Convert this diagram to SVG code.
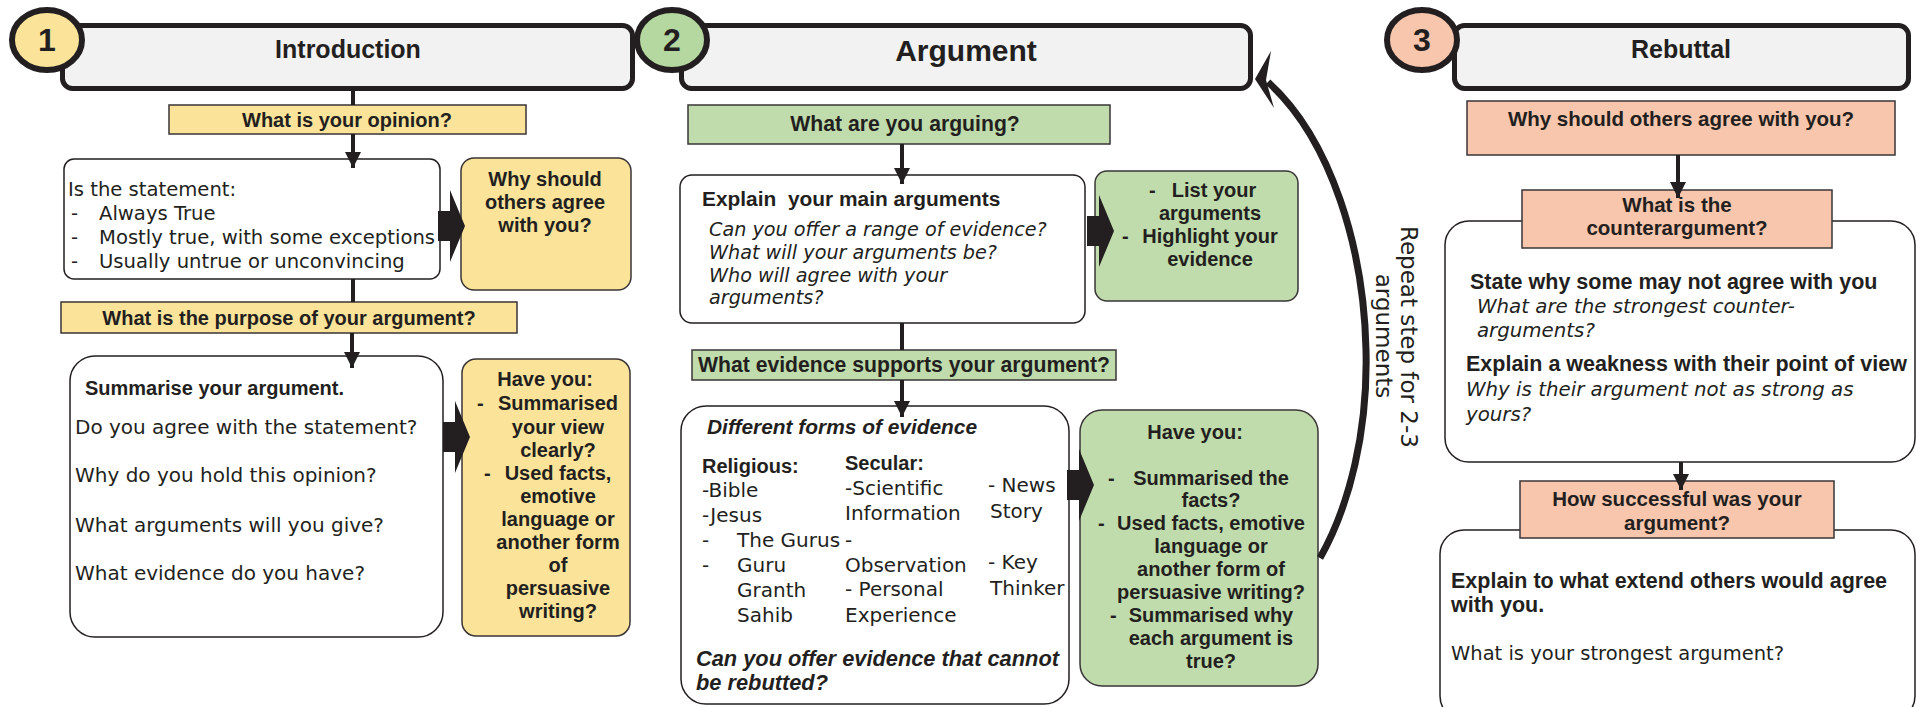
<svg xmlns="http://www.w3.org/2000/svg" width="1917" height="707" viewBox="0 0 1917 707">
  <style>
    .hdr{fill:#f1f2f1;stroke:#231f20;stroke-width:5}
    .num{stroke:#231f20;stroke-width:6}
    .y{fill:#fbe49a}
    .g{fill:#c0dcac}
    .g2{fill:#b5d7a0}
    .p{fill:#f8c6ac}
    .bar{stroke:#3a3536;stroke-width:1.5}
    .rbox{stroke:#3a3536;stroke-width:1.5}
    .box{fill:#ffffff;stroke:#231f20;stroke-width:1.5}
    text{fill:#231f20;font-family:"DejaVu Sans",sans-serif;font-size:20px}
    .b{font-family:"Liberation Sans",Arial,sans-serif;font-weight:bold;font-size:20px}
    .i{font-style:italic;font-size:19.5px}
    .c{text-anchor:middle}
    .t{font-family:"Liberation Sans",Arial,sans-serif;font-weight:bold;font-size:25px}
    .d{font-family:"Liberation Sans",Arial,sans-serif;font-weight:bold;font-size:32px}
    .z192{font-size:19.2px}
    .z195{font-size:19.5px}
    .z196{font-size:19.6px}
    .z198{font-size:19.8px}
    .z205{font-size:20.5px}
    .z209{font-size:20.9px}
    .z212{font-size:21.2px}
    .z215{font-size:21.5px}
    .z218{font-size:21.8px}
    .z23{font-size:23px}
    .z30{font-size:30px}
    .conn{stroke:#231f20;stroke-width:4;fill:none}
  </style>
  <defs>
    <marker id="ah" markerUnits="userSpaceOnUse" markerWidth="18" markerHeight="18" refX="16" refY="8" orient="auto">
      <path d="M0,0 L16,8 L0,16 Z" fill="#231f20"/>
    </marker>
    <path id="blk" d="M0,-15 H12 V-36 L27,0 L12,36 V15 H0 Z" fill="#231f20"/>
  </defs>

  <!-- 1 Introduction -->
  <g id="intro-header">
    <rect class="hdr" x="62.5" y="25.5" width="570" height="63" rx="10"/>
    <ellipse class="num y" cx="47" cy="40" rx="35" ry="30"/>
    <text class="d c" x="47" y="51">1</text>
    <text class="t c" x="348" y="58">Introduction</text>
  </g>
  <g id="intro-opinion">
    <rect class="bar y" x="169" y="105" width="357" height="29"/>
    <text class="b c" x="347" y="127">What is your opinion?</text>
  </g>
  <g id="intro-statement">
    <rect class="box" x="64" y="159" width="376" height="120" rx="10"/>
    <text class="z196" x="68" y="196">Is the statement:</text>
    <text class="z196" x="71" y="220">-</text><text class="z196" x="99" y="220">Always True</text>
    <text class="z196" x="71" y="244">-</text><text class="z196" x="99" y="244">Mostly true, with some exceptions</text>
    <text class="z196" x="71" y="268">-</text><text class="z196" x="99" y="268">Usually untrue or unconvincing</text>
  </g>
  <g id="intro-why">
    <rect class="rbox y" x="461" y="158" width="170" height="132" rx="13"/>
    <text class="b c" x="545" y="186">Why should</text>
    <text class="b c" x="545" y="209">others agree</text>
    <text class="b c" x="545" y="232">with you?</text>
  </g>
  <g id="intro-purpose">
    <rect class="bar y" x="61" y="302" width="456" height="31"/>
    <text class="b c" x="289" y="325">What is the purpose of your argument?</text>
  </g>
  <g id="intro-summary">
    <rect class="box" x="70" y="356" width="373" height="281" rx="25"/>
    <text class="b" x="85" y="395">Summarise your argument.</text>
    <text x="75" y="434">Do you agree with the statement?</text>
    <text x="75" y="482">Why do you hold this opinion?</text>
    <text x="75" y="532">What arguments will you give?</text>
    <text x="75" y="580">What evidence do you have?</text>
  </g>
  <g id="intro-check">
    <rect class="rbox y" x="462" y="359" width="168" height="277" rx="14"/>
    <text class="b c" x="545" y="386">Have you:</text>
    <text class="b" x="477" y="410">-</text>
    <text class="b c" x="558" y="410">Summarised</text>
    <text class="b c" x="558" y="434">your view</text>
    <text class="b c" x="558" y="457">clearly?</text>
    <text class="b" x="484" y="480">-</text>
    <text class="b c" x="558" y="480">Used facts,</text>
    <text class="b c" x="558" y="503">emotive</text>
    <text class="b c" x="558" y="526">language or</text>
    <text class="b c" x="558" y="549">another form</text>
    <text class="b c" x="558" y="572">of</text>
    <text class="b c" x="558" y="595">persuasive</text>
    <text class="b c" x="558" y="618">writing?</text>
  </g>

  <!-- 2 Argument -->
  <g id="arg-header">
    <rect class="hdr" x="681.5" y="25.5" width="569" height="63" rx="10"/>
    <ellipse class="num g2" cx="672" cy="40" rx="35" ry="30"/>
    <text class="d c" x="672" y="51">2</text>
    <text class="t z30 c" x="966" y="61">Argument</text>
  </g>
  <g id="arg-question">
    <rect class="bar g" x="688" y="105" width="422" height="39"/>
    <text class="b z212 c" x="905" y="131">What are you arguing?</text>
  </g>
  <g id="arg-main">
    <rect class="box" x="680" y="175" width="405" height="148" rx="12"/>
    <text class="b z209" x="702" y="206" xml:space="preserve">Explain  your main arguments</text>
    <text class="i z192" x="709" y="236">Can you offer a range of evidence?</text>
    <text class="i z192" x="709" y="259">What will your arguments be?</text>
    <text class="i z192" x="709" y="282">Who will agree with your</text>
    <text class="i z192" x="709" y="304">arguments?</text>
  </g>
  <g id="arg-list">
    <rect class="rbox g" x="1095" y="171" width="203" height="130" rx="12"/>
    <text class="b" x="1149" y="197">-</text>
    <text class="b c" x="1214" y="197">List your</text>
    <text class="b c" x="1210" y="220">arguments</text>
    <text class="b" x="1122" y="243">-</text>
    <text class="b c" x="1210" y="243">Highlight your</text>
    <text class="b c" x="1210" y="266">evidence</text>
  </g>
  <g id="arg-evidence-q">
    <rect class="bar g" x="692" y="350" width="424" height="30"/>
    <text class="b z212 c" x="904" y="372">What evidence supports your argument?</text>
  </g>
  <g id="arg-evidence">
    <rect class="box" x="681" y="406" width="388" height="298" rx="25"/>
    <text class="b z209" x="707" y="434" font-style="italic">Different forms of evidence</text>
    <text class="b" x="702" y="473">Religious:</text>
    <text class="b" x="845" y="470">Secular:</text>
    <text x="702" y="497">-Bible</text>
    <text x="845" y="495">-Scientific</text>
    <text x="988" y="492">- News</text>
    <text x="702" y="522">-Jesus</text>
    <text x="845" y="520">Information</text>
    <text x="990" y="518">Story</text>
    <text x="702" y="547">-</text><text x="737" y="547">The Gurus</text><text x="845" y="547">-</text>
    <text x="702" y="572">-</text><text x="737" y="572">Guru</text>
    <text x="845" y="572">Observation</text>
    <text x="988" y="569">- Key</text>
    <text x="737" y="597">Granth</text>
    <text x="845" y="596">- Personal</text>
    <text x="990" y="595">Thinker</text>
    <text x="737" y="622">Sahib</text>
    <text x="845" y="622">Experience</text>
    <text class="b z218" x="696" y="666" font-style="italic">Can you offer evidence that cannot</text>
    <text class="b z218" x="696" y="690" font-style="italic">be rebutted?</text>
  </g>
  <g id="arg-check">
    <rect class="rbox g" x="1080" y="410" width="238" height="276" rx="22"/>
    <text class="b c" x="1195" y="439">Have you:</text>
    <text class="b" x="1108" y="485">-</text>
    <text class="b c" x="1211" y="485">Summarised the</text>
    <text class="b c" x="1211" y="507">facts?</text>
    <text class="b" x="1098" y="530">-</text>
    <text class="b c" x="1211" y="530">Used facts, emotive</text>
    <text class="b c" x="1211" y="553">language or</text>
    <text class="b c" x="1211" y="576">another form of</text>
    <text class="b c" x="1211" y="599">persuasive writing?</text>
    <text class="b" x="1110" y="622">-</text>
    <text class="b c" x="1211" y="622">Summarised why</text>
    <text class="b c" x="1211" y="645">each argument is</text>
    <text class="b c" x="1211" y="668">true?</text>
  </g>

  <!-- 3 Rebuttal -->
  <g id="reb-header">
    <rect class="hdr" x="1454.5" y="25.5" width="454" height="63" rx="10"/>
    <ellipse class="num p" cx="1422" cy="40" rx="35" ry="30"/>
    <text class="d c" x="1422" y="51">3</text>
    <text class="t c" x="1681" y="58">Rebuttal</text>
  </g>
  <g id="reb-why">
    <rect class="bar p" x="1467" y="101" width="428" height="54"/>
    <text class="b z205 c" x="1681" y="126">Why should others agree with you?</text>
  </g>
  <g id="reb-counter">
    <rect class="box" x="1445" y="221" width="470" height="241" rx="24"/>
    <rect class="bar p" x="1522" y="190" width="310" height="58"/>
    <text class="b z205 c" x="1677" y="212">What is the</text>
    <text class="b z205 c" x="1677" y="235">counterargument?</text>
    <text class="b z215" x="1470" y="289">State why some may not agree with you</text>
    <text class="i z198" x="1477" y="313">What are the strongest counter-</text>
    <text class="i z198" x="1477" y="337">arguments?</text>
    <text class="b z215" x="1466" y="371">Explain a weakness with their point of view</text>
    <text class="i z198" x="1466" y="396">Why is their argument not as strong as</text>
    <text class="i z198" x="1466" y="421">yours?</text>
  </g>
  <g id="reb-success">
    <rect class="box" x="1440" y="530" width="475" height="190" rx="24"/>
    <rect class="bar p" x="1520" y="481" width="314" height="57"/>
    <text class="b z205 c" x="1677" y="506">How successful was your</text>
    <text class="b z205 c" x="1677" y="530">argument?</text>
    <text class="b z215" x="1451" y="588">Explain to what extend others would agree</text>
    <text class="b z215" x="1451" y="612">with you.</text>
    <text class="z195" x="1451" y="660">What is your strongest argument?</text>
  </g>

  <!-- connectors, drawn over the boxes -->
  <g id="connectors">
    <line class="conn" x1="353" y1="90" x2="353" y2="105"/>
    <line class="conn" x1="353" y1="134" x2="353" y2="168" marker-end="url(#ah)"/>
    <line class="conn" x1="353" y1="279" x2="353" y2="302"/>
    <line class="conn" x1="352" y1="333" x2="352" y2="368" marker-end="url(#ah)"/>
    <line class="conn" x1="902" y1="144" x2="902" y2="184" marker-end="url(#ah)"/>
    <line class="conn" x1="902" y1="323" x2="902" y2="350"/>
    <line class="conn" x1="902" y1="380" x2="902" y2="417" marker-end="url(#ah)"/>
    <line class="conn" x1="1678" y1="155" x2="1678" y2="198" marker-end="url(#ah)"/>
    <line class="conn" x1="1681" y1="462" x2="1681" y2="490" marker-end="url(#ah)"/>
    <use href="#blk" x="438" y="226"/>
    <use href="#blk" x="443" y="437"/>
    <use href="#blk" x="1087" y="231"/>
    <use href="#blk" x="1067" y="485"/>
    <!-- loop back to the Argument header -->
    <path d="M1320,558 C1350,505 1368,430 1366,350 C1364,250 1332,140 1268,82" fill="none" stroke="#231f20" stroke-width="7"/>
    <polygon points="1255,79 1271,51 1266,80 1274,108" fill="#231f20"/>
    <text class="z23" transform="translate(1401,226) rotate(90)">Repeat step for 2-3</text>
    <text class="z23 c" transform="translate(1376,336) rotate(90)">arguments</text>
  </g>
</svg>
